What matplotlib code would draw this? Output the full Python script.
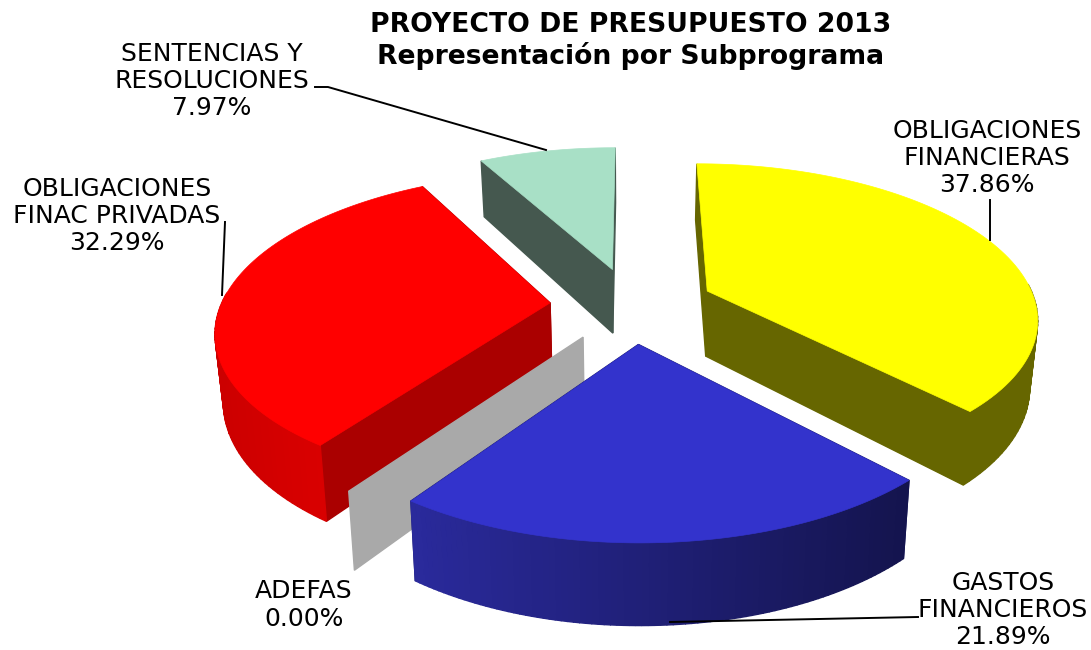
import numpy as np
import matplotlib
matplotlib.use('Agg')
import matplotlib.pyplot as plt

labels = ['OBLIGACIONES\nFINANCIERAS\n37.86%', 'GASTOS\nFINANCIEROS\n21.89%', 'ADEFAS\n0.00%',
          'OBLIGACIONES\nFINAC PRIVADAS\n32.29%', 'SENTENCIAS Y\nRESOLUCIONES\n7.97%']
shares = [37.86, 21.89, 0.00, 32.29, 7.97]
top_colors = ['#ffff00', '#3333cc', '#a9a9a9', '#ff0000', '#a8e0c6']
wall_colors = ['#666600', '#1a1a66', '#a9a9a9', '#aa0000', '#45584f']
# outer wall shade at the left and right end of the slice
outer_shades = [('#666600', '#666600'), ('#2a2a9c', '#14144e'), ('#a9a9a9', '#a9a9a9'),
                ('#cc0000', '#e60000'), ('#45584f', '#45584f')]
label_xy = [(987, 158), (1003, 610), (304, 605), (117, 216), (212, 81)]
leaders = [[(990, 200), (990, 240)], [(918, 617), (670, 622)], [(225, 222), (222, 295)],
           [(315, 87), (328, 87), (546, 150)]]
title = 'PROYECTO DE PRESUPUESTO 2013\nRepresentación por Subprograma'

CX, CY = 632, 305
A, B = 329, 152
Q = 0.1615
EXPLODE = 0.25
HEIGHT = 66
TAPER = 0.02
START = 0.0


def project(x, y, z=0.0):
    # x right, y toward the viewer, z down (0 = top face, 1 = bottom)
    s = 1 / (1 - Q * y)
    return CX + A * x * s * (1 - TAPER * z), CY + (B * y + HEIGHT * z) * s


def rim(offset, theta):
    return offset[0] + np.sin(theta), offset[1] - np.cos(theta)


def mix(c1, c2, t):
    c1 = np.array(matplotlib.colors.to_rgb(c1))
    c2 = np.array(matplotlib.colors.to_rgb(c2))
    return tuple(c1 + (c2 - c1) * t)


def wall(ax, p0, p1, color, zorder):
    x0, y0 = project(p0[0], p0[1])
    x1, y1 = project(p1[0], p1[1])
    x2, y2 = project(p1[0], p1[1], 1)
    x3, y3 = project(p0[0], p0[1], 1)
    ax.fill([x0, x1, x2, x3], [y0, y1, y2, y3], color=color, lw=1.0, zorder=zorder)


def draw_slice(ax, start, end, idx, zorder):
    mid = (start + end) / 2
    off = (EXPLODE * np.sin(mid), -EXPLODE * np.cos(mid))
    theta = np.linspace(start, end, 90)
    if end - start < 1e-6:
        # zero slice: just one upright sheet
        wall(ax, off, rim(off, start), top_colors[idx], zorder)
        return
    # inner walls first
    wall(ax, off, rim(off, start), wall_colors[idx], zorder)
    wall(ax, off, rim(off, end), wall_colors[idx], zorder)
    # outer wall, only the part that faces us
    rx, ry = rim(off, theta)
    px, py = project(rx, ry)
    lo, hi = px.min(), px.max()
    for i in range(len(theta) - 1):
        if np.cos(theta[i]) > 0.05:
            continue
        t = (px[i] - lo) / (hi - lo)
        wall(ax, (rx[i], ry[i]), (rx[i + 1], ry[i + 1]),
             mix(outer_shades[idx][0], outer_shades[idx][1], t), zorder + 0.1)
    # top face
    ox, oy = project(off[0], off[1])
    ax.fill(np.r_[ox, px], np.r_[oy, py], color=top_colors[idx], lw=0.5, zorder=zorder + 0.2)


fig = plt.figure(figsize=(10.91, 6.5), dpi=100)
ax = fig.add_axes([0, 0, 1, 1])
ax.set_xlim(0, 1091)
ax.set_ylim(650, 0)
ax.axis('off')

edges = START + np.r_[0, np.cumsum(shares)] / 100 * 2 * np.pi
# back to front
for idx, z in [(4, 1), (0, 2), (3, 3), (2, 4), (1, 5)]:
    draw_slice(ax, edges[idx], edges[idx + 1], idx, z)

for pts in leaders:
    ax.plot([p[0] for p in pts], [p[1] for p in pts], color='black', lw=1.4, zorder=8)

for txt, (x, y) in zip(labels, label_xy):
    ax.text(x, y, txt, ha='center', va='center', fontsize=18, color='black',
            linespacing=1.18, family='DejaVu Sans', zorder=9)

ax.text(631, 41, title, ha='center', va='center', fontsize=19.2, fontweight='bold',
        linespacing=1.15, family='DejaVu Sans', zorder=9)

fig.savefig('out.png', dpi=100)
